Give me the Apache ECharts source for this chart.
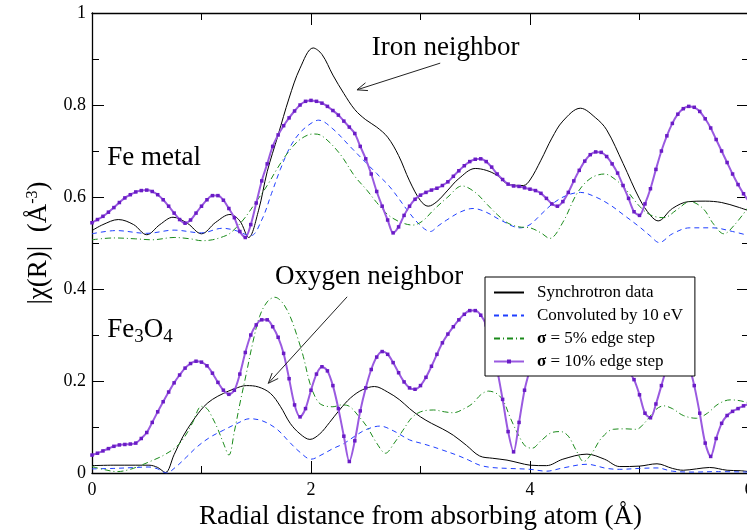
<!DOCTYPE html>
<html>
<head>
<meta charset="utf-8">
<script src="https://cdn.jsdelivr.net/npm/echarts@6/dist/echarts.min.js"></script>
<style>
  html, body { margin: 0; padding: 0; background: #fff; }
  #chart { width: 747px; height: 532px; }
</style>
</head>
<body>
<div id="chart"></div>
<script>
// ---- Fe metal (upper curves) ----
const feSyncX = [0, 0.1, 0.24, 0.38, 0.5, 0.62, 0.74, 0.87, 1.0, 1.13, 1.26, 1.35, 1.43, 1.52, 1.6, 1.7, 1.8, 1.9, 2.02, 2.1, 2.2, 2.3, 2.4, 2.5, 2.6, 2.7, 2.8, 2.9, 3.0, 3.07, 3.15, 3.25, 3.35, 3.5, 3.6, 3.7, 3.8, 3.94, 4.0, 4.1, 4.2, 4.3, 4.46, 4.6, 4.7, 4.85, 5.0, 5.1, 5.17, 5.3, 5.45, 5.6, 5.75, 5.9, 6.0];
const feSyncY = [0.527, 0.54, 0.551, 0.54, 0.518, 0.54, 0.556, 0.543, 0.52, 0.545, 0.562, 0.548, 0.512, 0.57, 0.655, 0.735, 0.815, 0.88, 0.924, 0.91, 0.865, 0.825, 0.79, 0.768, 0.752, 0.73, 0.69, 0.635, 0.592, 0.58, 0.59, 0.615, 0.64, 0.662, 0.658, 0.647, 0.628, 0.625, 0.637, 0.68, 0.728, 0.765, 0.793, 0.772, 0.746, 0.673, 0.596, 0.56, 0.548, 0.575, 0.59, 0.591, 0.588, 0.578, 0.57];

const feConvX = [0, 0.22, 0.5, 0.75, 1.0, 1.19, 1.3, 1.45, 1.55, 1.64, 1.72, 1.81, 1.9, 2.0, 2.07, 2.2, 2.36, 2.5, 2.6, 2.72, 2.9, 3.0, 3.09, 3.16, 3.24, 3.36, 3.48, 3.6, 3.73, 3.91, 4.0, 4.1, 4.21, 4.33, 4.46, 4.6, 4.73, 4.85, 5.0, 5.1, 5.18, 5.3, 5.46, 5.67, 5.85, 6.0];
const feConvY = [0.52, 0.527, 0.521, 0.528, 0.522, 0.532, 0.528, 0.516, 0.55, 0.608, 0.66, 0.709, 0.74, 0.76, 0.767, 0.748, 0.709, 0.675, 0.651, 0.622, 0.565, 0.538, 0.525, 0.537, 0.55, 0.567, 0.575, 0.567, 0.55, 0.533, 0.54, 0.562, 0.586, 0.603, 0.61, 0.6, 0.583, 0.562, 0.535, 0.515, 0.501, 0.52, 0.533, 0.533, 0.525, 0.516];

const fe5X = [0, 0.2, 0.4, 0.55, 0.75, 0.9, 1.0, 1.1, 1.2, 1.26, 1.38, 1.5, 1.6, 1.7, 1.8, 1.9, 2.02, 2.1, 2.26, 2.4, 2.51, 2.6, 2.7, 2.81, 2.93, 3.02, 3.12, 3.25, 3.38, 3.5, 3.6, 3.7, 3.8, 3.9, 4.0, 4.1, 4.18, 4.3, 4.43, 4.55, 4.68, 4.78, 4.88, 5.0, 5.1, 5.22, 5.34, 5.46, 5.58, 5.68, 5.77, 5.87, 6.0];
const fe5Y = [0.507, 0.511, 0.509, 0.507, 0.512, 0.509, 0.505, 0.507, 0.514, 0.521, 0.55, 0.59, 0.625, 0.665, 0.7, 0.725, 0.737, 0.733, 0.695, 0.645, 0.615, 0.588, 0.562, 0.546, 0.539, 0.548, 0.572, 0.6, 0.624, 0.61, 0.586, 0.562, 0.543, 0.535, 0.533, 0.522, 0.51, 0.545, 0.608, 0.64, 0.65, 0.638, 0.615, 0.58, 0.561, 0.555, 0.572, 0.59, 0.575, 0.54, 0.52, 0.54, 0.58];

// sampled every 0.05 A from 0 to 6
const fe10Y = [
  0.544, 0.551, 0.558, 0.567, 0.577, 0.588, 0.598, 0.605, 0.611, 0.614,
  0.615, 0.612, 0.605, 0.594, 0.58, 0.565, 0.551, 0.543, 0.55, 0.565,
  0.58, 0.594, 0.603, 0.603, 0.593, 0.575, 0.555, 0.525, 0.512, 0.54,
  0.587, 0.635, 0.672, 0.71, 0.735, 0.755, 0.772, 0.787, 0.8, 0.808,
  0.81, 0.808, 0.804, 0.797, 0.788, 0.778, 0.765, 0.752, 0.738, 0.71,
  0.683, 0.65, 0.612, 0.58, 0.55, 0.522, 0.535, 0.56, 0.58, 0.595,
  0.604, 0.61, 0.615, 0.619, 0.625, 0.633, 0.645, 0.657, 0.668, 0.677,
  0.682, 0.683, 0.677, 0.665, 0.65, 0.638, 0.628, 0.624, 0.623, 0.62,
  0.617, 0.614, 0.608, 0.597, 0.585, 0.58, 0.59, 0.61, 0.635, 0.658,
  0.678, 0.692, 0.698, 0.697, 0.688, 0.672, 0.652, 0.625, 0.597, 0.568,
  0.56, 0.585, 0.618, 0.66, 0.7, 0.733, 0.76, 0.78, 0.792, 0.797,
  0.795, 0.786, 0.77, 0.75, 0.725, 0.7, 0.675, 0.65, 0.627, 0.607,
  0.59
];

// ---- Fe3O4 (lower curves) ----
const oxSyncX = [0, 0.2, 0.4, 0.52, 0.6, 0.67, 0.75, 0.83, 0.92, 1.02, 1.1, 1.2, 1.3, 1.41, 1.52, 1.63, 1.72, 1.81, 1.9, 1.99, 2.08, 2.17, 2.26, 2.36, 2.47, 2.58, 2.7, 2.81, 2.9, 3.0, 3.1, 3.2, 3.3, 3.42, 3.54, 3.66, 3.79, 3.9, 4.0, 4.15, 4.3, 4.52, 4.68, 4.82, 5.0, 5.16, 5.3, 5.4, 5.52, 5.64, 5.8, 5.92, 6.0];
const oxSyncY = [0.016, 0.017, 0.017, 0.017, 0.012, 0.001, 0.04, 0.079, 0.113, 0.144, 0.16, 0.173, 0.183, 0.19, 0.187, 0.173, 0.145, 0.108, 0.085, 0.073, 0.085, 0.11, 0.137, 0.163, 0.181, 0.188, 0.176, 0.159, 0.14, 0.122, 0.108, 0.096, 0.082, 0.06, 0.037, 0.032, 0.028, 0.022, 0.017, 0.016, 0.03, 0.041, 0.03, 0.014, 0.015, 0.02, 0.01, 0.006, 0.009, 0.012, 0.006, 0.005, 0.003];

const oxConvX = [0, 0.2, 0.4, 0.52, 0.6, 0.68, 0.76, 0.86, 0.96, 1.08, 1.2, 1.32, 1.44, 1.56, 1.69, 1.8, 1.9, 2.0, 2.1, 2.2, 2.3, 2.4, 2.5, 2.63, 2.75, 2.9, 3.0, 3.1, 3.2, 3.33, 3.44, 3.54, 3.65, 3.8, 4.0, 4.15, 4.3, 4.52, 4.7, 4.82, 5.0, 5.16, 5.3, 5.5, 5.7, 6.0];
const oxConvY = [0.009, 0.01, 0.012, 0.013, 0.009, 0.0, 0.012, 0.034, 0.057, 0.078, 0.093, 0.107, 0.118, 0.113, 0.095, 0.068, 0.045, 0.03, 0.04, 0.053, 0.064, 0.08, 0.094, 0.102, 0.092, 0.072, 0.065, 0.058, 0.05, 0.039, 0.028, 0.017, 0.012, 0.01, 0.008, 0.004, 0.011, 0.019, 0.01, 0.008, 0.01, 0.011, 0.004, 0.002, 0.003, 0.002];

const ox5X = [0, 0.1, 0.23, 0.35, 0.45, 0.53, 0.65, 0.77, 0.85, 0.92, 1.0, 1.05, 1.1, 1.15, 1.2, 1.25, 1.3, 1.35, 1.41, 1.47, 1.53, 1.6, 1.67, 1.74, 1.81, 1.87, 1.93, 1.99, 2.05, 2.1, 2.2, 2.28, 2.35, 2.43, 2.51, 2.6, 2.68, 2.76, 2.84, 2.92, 3.0, 3.12, 3.22, 3.3, 3.4, 3.48, 3.55, 3.62, 3.7, 3.76, 3.82, 3.9, 3.96, 4.02, 4.1, 4.2, 4.28, 4.35, 4.42, 4.49, 4.57, 4.65, 4.76, 4.87, 4.97, 5.05, 5.15, 5.22, 5.3, 5.4, 5.52, 5.62, 5.72, 5.83, 5.92, 6.0];
const ox5Y = [0.014, 0.008, 0.003, 0.008, 0.017, 0.025, 0.038, 0.057, 0.08, 0.11, 0.145, 0.14, 0.12, 0.095, 0.065, 0.039, 0.09, 0.15, 0.217, 0.285, 0.34, 0.372, 0.382, 0.37, 0.34, 0.3, 0.253, 0.195, 0.16, 0.148, 0.144, 0.148, 0.145, 0.125, 0.101, 0.065, 0.043, 0.065, 0.093, 0.12, 0.133, 0.137, 0.133, 0.131, 0.14, 0.152, 0.17, 0.178, 0.172, 0.155, 0.12, 0.08, 0.058, 0.054, 0.07, 0.088, 0.09, 0.08, 0.05, 0.025, 0.045, 0.075, 0.095, 0.096, 0.095, 0.11, 0.138, 0.146, 0.14, 0.125, 0.119, 0.13, 0.15, 0.159, 0.157, 0.152];

// sampled every 0.05 A from 0 to 6
const ox10Y = [
  0.039, 0.043, 0.048, 0.053, 0.058, 0.061, 0.062, 0.063, 0.065, 0.075,
  0.088, 0.11, 0.133, 0.155, 0.176, 0.196, 0.213, 0.228, 0.238, 0.243,
  0.241, 0.233, 0.217, 0.197, 0.18, 0.171, 0.18, 0.215, 0.262, 0.3,
  0.322, 0.333, 0.333, 0.318, 0.295, 0.26, 0.205, 0.148, 0.122, 0.14,
  0.18, 0.215, 0.231, 0.222, 0.19, 0.14, 0.08, 0.025, 0.07, 0.135,
  0.185, 0.225, 0.252, 0.264, 0.258, 0.24, 0.218, 0.198, 0.185, 0.182,
  0.19, 0.208, 0.232, 0.258, 0.283, 0.302, 0.318, 0.333, 0.345, 0.353,
  0.353, 0.343, 0.322, 0.285, 0.225, 0.16, 0.09, 0.046, 0.11, 0.18,
  0.225, 0.26, 0.285, 0.302, 0.312, 0.318, 0.32, 0.315, 0.305, 0.29,
  0.275, 0.262, 0.252, 0.245, 0.24, 0.238, 0.236, 0.23, 0.22, 0.203,
  0.17, 0.13, 0.12, 0.15, 0.19, 0.23, 0.26, 0.27, 0.262, 0.235,
  0.19, 0.13, 0.065, 0.036, 0.075, 0.108, 0.125, 0.134, 0.14, 0.146,
  0.15
];

const SIGMA_STEP = 0.05;
const sigmaX = fe10Y.map((_, i) => +(i * SIGMA_STEP).toFixed(2));

const legendNames = ['Synchrotron data', 'Convoluted by 10 eV', 'σ = 5% edge step', 'σ = 10% edge step'];

const SERIF = 'Liberation Serif';
const BIG = 27;
const pairs = (xs, ys) => xs.map((x, i) => [x, ys[i]]);

function curve(name, xs, ys, color, dash, width) {
  return {
    name: name,
    type: 'line',
    data: pairs(xs, ys),
    symbol: 'none',
    smooth: 0.35,
    lineStyle: { color: color, width: width, type: dash },
    itemStyle: { color: color },
    z: 2
  };
}
function markedCurve(name, xs, ys) {
  return {
    name: name,
    type: 'line',
    data: pairs(xs, ys),
    symbol: 'rect',
    symbolSize: 3.5,
    showSymbol: true,
    smooth: 0.3,
    lineStyle: { color: '#9a5ae0', width: 2 },
    itemStyle: { color: '#6a1cc6' },
    z: 3
  };
}

const chart = echarts.init(document.getElementById('chart'), null, { renderer: 'canvas' });

const tickCfg = { show: true, inside: true, length: 12, lineStyle: { color: '#000', width: 1 } };
const minorCfg = { show: true, splitNumber: 2, length: 7, lineStyle: { color: '#000', width: 1 } };
const lineCfg = { show: true, onZero: false, lineStyle: { color: '#000', width: 1.3 } };

const option = {
  animation: false,
  backgroundColor: '#fff',
  grid: { left: 92, top: 13, width: 657, height: 460, containLabel: false, outerBoundsMode: 'none' },
  xAxis: [
    {
      type: 'value', min: 0, max: 6, interval: 2, position: 'bottom',
      axisLine: lineCfg, axisTick: tickCfg, minorTick: minorCfg, splitLine: { show: false },
      axisLabel: { color: '#000', fontFamily: SERIF, fontSize: 18, margin: 8 },
      name: 'Radial distance from absorbing atom (Å)', nameLocation: 'middle', nameGap: 29,
      nameTextStyle: { color: '#000', fontFamily: SERIF, fontSize: BIG }
    },
    {
      type: 'value', min: 0, max: 6, interval: 2, position: 'top',
      axisLine: lineCfg, axisTick: tickCfg, minorTick: minorCfg, splitLine: { show: false },
      axisLabel: { show: false }
    }
  ],
  yAxis: [
    {
      type: 'value', min: 0, max: 1, interval: 0.2, position: 'left',
      axisLine: lineCfg, axisTick: tickCfg, minorTick: minorCfg, splitLine: { show: false },
      axisLabel: { color: '#000', fontFamily: SERIF, fontSize: 18, margin: 6 },
      name: '|χ(R)|  (Å{sup|-3})', nameLocation: 'middle', nameRotate: 90, nameGap: 36,
      nameTextStyle: {
        color: '#000', fontFamily: SERIF, fontSize: BIG,
        rich: { sup: { fontFamily: SERIF, fontSize: 16, color: '#000', padding: [0, 0, 13, 0] } }
      }
    },
    {
      type: 'value', min: 0, max: 1, interval: 0.2, position: 'right',
      axisLine: lineCfg, axisTick: tickCfg, minorTick: minorCfg, splitLine: { show: false },
      axisLabel: { show: false }
    }
  ],
  legend: {
    orient: 'vertical',
    left: 485, top: 277,
    padding: [7, 12, 6, 8],
    itemGap: 6,
    itemWidth: 30, itemHeight: 5,
    backgroundColor: '#fff',
    borderColor: '#000', borderWidth: 1,
    z: 10,
    data: [
      { name: legendNames[0], itemStyle: { opacity: 0 } },
      { name: legendNames[1], itemStyle: { opacity: 0 } },
      { name: legendNames[2], itemStyle: { opacity: 0 } },
      { name: legendNames[3] }
    ],
    formatter: n => n.replace('σ', '{g|σ}'),
    textStyle: {
      color: '#000', fontFamily: SERIF, fontSize: 17, padding: [0, 0, 0, 8],
      rich: { g: { fontFamily: SERIF, fontSize: 17, fontWeight: 'bold', color: '#000' } }
    }
  },
  series: [
    curve(legendNames[0], feSyncX, feSyncY, '#000', 'solid', 1),
    curve(legendNames[1], feConvX, feConvY, '#1f3fff', [5, 4], 1),
    curve(legendNames[2], fe5X, fe5Y, '#1a8a1a', [6, 3, 1, 3], 1),
    markedCurve(legendNames[3], sigmaX, fe10Y),
    curve(legendNames[0], oxSyncX, oxSyncY, '#000', 'solid', 1),
    curve(legendNames[1], oxConvX, oxConvY, '#1f3fff', [5, 4], 1),
    curve(legendNames[2], ox5X, ox5Y, '#1a8a1a', [6, 3, 1, 3], 1),
    markedCurve(legendNames[3], sigmaX, ox10Y)
  ]
};
chart.setOption(option);

// annotations placed in data coordinates
const px = p => chart.convertToPixel({ gridIndex: 0 }, p);
const labelFont = { fontFamily: SERIF, fontSize: BIG, fill: '#000' };

function textAt(text, at, align, rich) {
  const p = px(at);
  return {
    type: 'text', x: p[0], y: p[1], z: 20,
    style: Object.assign({ text: text, align: align, verticalAlign: 'middle', rich: rich }, labelFont)
  };
}
function arrow(from, to) {
  const a = px(from), b = px(to);
  const dx = b[0] - a[0], dy = b[1] - a[1];
  const len = Math.sqrt(dx * dx + dy * dy);
  const ux = dx / len, uy = dy / len;
  const head = 11, ang = 0.38;
  const rot = (s) => [
    b[0] - head * (ux * Math.cos(s) - uy * Math.sin(s)),
    b[1] - head * (ux * Math.sin(s) + uy * Math.cos(s))
  ];
  return [
    { type: 'line', z: 20, shape: { x1: a[0], y1: a[1], x2: b[0], y2: b[1] }, style: { stroke: '#222', lineWidth: 1 } },
    { type: 'polyline', z: 20, shape: { points: [rot(ang), b, rot(-ang)] }, style: { stroke: '#222', lineWidth: 1, fill: null } }
  ];
}

chart.setOption({
  graphic: [
    textAt('Iron neighbor', [3.23, 0.925], 'center'),
    textAt('Oxygen neighbor', [2.53, 0.426], 'center'),
    textAt('Fe metal', [0.14, 0.686], 'left'),
    textAt('Fe{s|3}O{s|4}', [0.14, 0.311], 'left', {
      s: { fontFamily: SERIF, fontSize: 19, fill: '#000', padding: [15, 0, 0, 0] }
    })
  ].concat(arrow([3.18, 0.891], [2.42, 0.833]), arrow([2.33, 0.383], [1.61, 0.195]))
});
</script>
</body>
</html>
